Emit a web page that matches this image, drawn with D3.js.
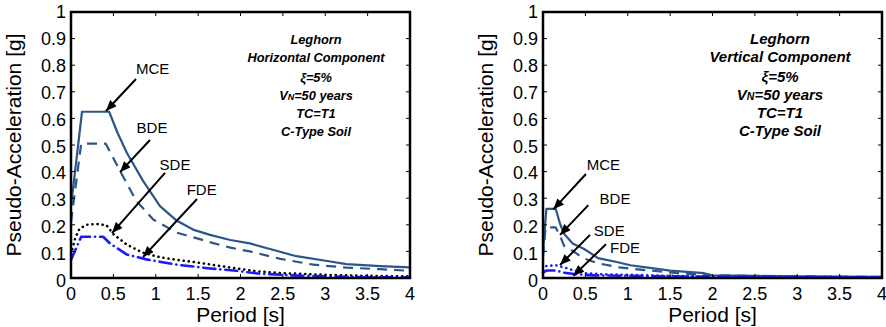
<!DOCTYPE html>
<html>
<head>
<meta charset="utf-8">
<script src="https://cdn.jsdelivr.net/npm/d3@7/dist/d3.min.js"></script>
<style>
  body { margin: 0; background: #fff; }
  svg { display: block; font-family: Arial, 'Liberation Sans', sans-serif; }
</style>
</head>
<body>
<div id="chart"></div>
<script>
// period [s] / pseudo-acceleration [g]
const hMCE = [[0,0.27],[0.13,0.625],[0.45,0.625],[0.55,0.545],[0.66,0.47],[0.85,0.365],[1.05,0.27],[1.25,0.215],[1.44,0.182],[1.64,0.162],[1.88,0.143],[2.11,0.13],[2.38,0.106],[2.66,0.082],[3.06,0.062],[3.25,0.052],[3.65,0.045],[4.0,0.04]]
const hBDE = [[0,0.21],[0.12,0.505],[0.41,0.505],[0.5,0.45],[0.6,0.39],[0.77,0.29],[0.97,0.22],[1.25,0.17],[1.5,0.148],[1.6,0.138],[1.88,0.114],[2.11,0.1],[2.47,0.072],[2.86,0.05],[3.25,0.039],[3.65,0.033],[4.0,0.027]]
const hSDE = [[0,0.09],[0.05,0.15],[0.1,0.185],[0.18,0.2],[0.3,0.203],[0.42,0.198],[0.5,0.165],[0.66,0.125],[0.85,0.095],[1.05,0.078],[1.25,0.068],[1.45,0.06],[1.7,0.048],[1.95,0.036],[2.2,0.025],[2.5,0.018],[3.0,0.012],[3.5,0.008],[4.0,0.006]]
const hFDE = [[0,0.068],[0.12,0.155],[0.38,0.155],[0.46,0.13],[0.66,0.088],[0.89,0.07],[1.25,0.05],[1.64,0.036],[1.95,0.027],[2.2,0.017],[2.6,0.01],[3.0,0.006],[3.5,0.003],[4.0,0.002]]

const vMCE = [[0,0.1],[0.04,0.26],[0.15,0.26],[0.2,0.205],[0.25,0.165],[0.35,0.13],[0.48,0.11],[0.65,0.075],[0.87,0.06],[1.03,0.048],[1.26,0.038],[1.5,0.028],[1.9,0.018],[2.0,0.01],[2.5,0.008],[3.0,0.006],[3.5,0.005],[4.0,0.004]]
const vBDE = [[0,0.08],[0.03,0.19],[0.15,0.19],[0.2,0.16],[0.25,0.12],[0.36,0.1],[0.47,0.075],[0.65,0.055],[0.9,0.04],[1.26,0.028],[1.6,0.018],[2.0,0.01],[3.0,0.006],[4.0,0.004]]
const vSDE = [[0,0.03],[0.04,0.045],[0.15,0.048],[0.25,0.04],[0.35,0.03],[0.5,0.018],[0.7,0.014],[1.0,0.012],[1.5,0.008],[2.0,0.006],[3.0,0.004],[4.0,0.003]]
const vFDE = [[0,0.02],[0.04,0.028],[0.15,0.028],[0.25,0.02],[0.4,0.014],[0.6,0.01],[1.0,0.008],[2.0,0.005],[4.0,0.002]]

const xTicks = [0, 0.5, 1, 1.5, 2, 2.5, 3, 3.5, 4]
const yTicks = [0, 0.1, 0.2, 0.3, 0.4, 0.5, 0.6, 0.7, 0.8, 0.9, 1]

// label text, label position, arrow start, arrow tip (data units)
const hNotes = [
  { label: 'MCE', at: [0.964, 0.786], from: [0.767, 0.748], to: [0.413, 0.628] },
  { label: 'BDE', at: [0.956, 0.564], from: [0.932, 0.519], to: [0.578, 0.398] },
  { label: 'SDE', at: [1.227, 0.425], from: [1.109, 0.395], to: [0.484, 0.169] },
  { label: 'FDE', at: [1.542, 0.331], from: [1.487, 0.297], to: [0.85, 0.079] }
]
const vNotes = [
  { label: 'MCE', at: [0.712, 0.425], from: [0.507, 0.391], to: [0.122, 0.258] },
  { label: 'BDE', at: [0.85, 0.3], from: [0.535, 0.274], to: [0.201, 0.162] },
  { label: 'SDE', at: [0.782, 0.18], from: [0.555, 0.162], to: [0.201, 0.049] },
  { label: 'FDE', at: [0.968, 0.114], from: [0.743, 0.127], to: [0.358, 0.008] }
]

const navy = '#2b5689'
const blue = '#1a1aff'

const svg = d3.select('#chart').append('svg').attr('width', 886).attr('height', 327)

svg.append('defs').append('marker')
  .attr('id', 'arrow')
  .attr('viewBox', '0 -5 12 10')
  .attr('refX', 12).attr('refY', 0)
  .attr('markerWidth', 12).attr('markerHeight', 9)
  .attr('markerUnits', 'userSpaceOnUse')
  .attr('orient', 'auto')
  .append('path').attr('d', 'M0,-5L12,0L0,5Z').attr('fill', '#000')

const drawPanel = (left, series, notes, component, infoX, infoSize) => {
  const top = 12, bottom = 278, w = 339
  const x = d3.scaleLinear().domain([0, 4]).range([left, left + w])
  const y = d3.scaleLinear().domain([0, 1]).range([bottom, top])
  const g = svg.append('g')

  const line = d3.line().x(d => x(d[0])).y(d => y(d[1]))
  series.forEach(s => {
    g.append('path').datum(s.data).attr('d', line)
      .attr('fill', 'none').attr('stroke', s.color).attr('stroke-width', s.width)
      .attr('stroke-dasharray', s.dash).attr('stroke-linecap', s.cap || 'butt')
      .attr('stroke-linejoin', 'round')
  })

  // ticks inward on all four sides
  const tick = 4
  xTicks.forEach(t => {
    g.append('line').attr('x1', x(t)).attr('x2', x(t)).attr('y1', bottom).attr('y2', bottom - tick).attr('stroke', '#000')
    g.append('line').attr('x1', x(t)).attr('x2', x(t)).attr('y1', top).attr('y2', top + tick).attr('stroke', '#000')
    g.append('text').attr('x', x(t)).attr('y', bottom + 22).attr('text-anchor', 'middle')
      .attr('font-size', 18).text(t)
  })
  yTicks.forEach(t => {
    g.append('line').attr('x1', left).attr('x2', left + tick).attr('y1', y(t)).attr('y2', y(t)).attr('stroke', '#000')
    g.append('line').attr('x1', left + w).attr('x2', left + w - tick).attr('y1', y(t)).attr('y2', y(t)).attr('stroke', '#000')
    g.append('text').attr('x', left - 5).attr('y', y(t) + 6 + (1 - t) * 3).attr('text-anchor', 'end')
      .attr('font-size', 18).text(t)
  })

  g.append('rect').attr('x', left).attr('y', top).attr('width', w).attr('height', bottom - top)
    .attr('fill', 'none').attr('stroke', '#000').attr('stroke-width', 2.5)

  g.append('text').attr('x', left + w / 2).attr('y', 322).attr('text-anchor', 'middle')
    .attr('font-size', 21).text('Period [s]')
  g.append('text').attr('transform', `translate(${left - 50},145) rotate(-90)`)
    .attr('text-anchor', 'middle').attr('font-size', 21).text('Pseudo-Acceleration [g]')

  notes.forEach(n => {
    g.append('line').attr('x1', x(n.from[0])).attr('y1', y(n.from[1]))
      .attr('x2', x(n.to[0])).attr('y2', y(n.to[1]))
      .attr('stroke', '#000').attr('stroke-width', 2).attr('marker-end', 'url(#arrow)')
    g.append('text').attr('x', x(n.at[0])).attr('y', y(n.at[1]) + 5.5)
      .attr('text-anchor', 'middle').attr('font-size', 15).text(n.label)
  })

  const info = g.append('text').attr('text-anchor', 'middle').attr('font-size', infoSize)
    .attr('font-weight', 'bold').attr('font-style', 'italic')
  const rows = [39, 57, 77, 95, 113, 131]
  const dy = infoSize * 0.36
  info.append('tspan').attr('x', infoX).attr('y', rows[0] + dy).text('Leghorn')
  info.append('tspan').attr('x', infoX).attr('y', rows[1] + dy).text(component)
  info.append('tspan').attr('x', infoX).attr('y', rows[2] + dy).text('ξ=5%')
  const vn = info.append('tspan').attr('x', infoX).attr('y', rows[3] + dy)
  vn.append('tspan').text('V')
  vn.append('tspan').attr('font-size', infoSize * 0.7).text('N')
  vn.append('tspan').text('=50 years')
  info.append('tspan').attr('x', infoX).attr('y', rows[4] + dy).text('TC=T1')
  info.append('tspan').attr('x', infoX).attr('y', rows[5] + dy).text('C-Type Soil')
}

drawPanel(71, [
  { data: hMCE, color: navy, width: 2.2, dash: null },
  { data: hBDE, color: navy, width: 2.2, dash: '10 7' },
  { data: hSDE, color: '#000', width: 2.6, dash: '0.1 5', cap: 'round' },
  { data: hFDE, color: blue, width: 2.6, dash: '12 5 0.1 5', cap: 'round' }
], hNotes, 'Horizontal Component', 316, 12.8)

drawPanel(543, [
  { data: vMCE, color: navy, width: 2.2, dash: null },
  { data: vBDE, color: navy, width: 2.2, dash: '10 7' },
  { data: vSDE, color: blue, width: 2.6, dash: '0.1 5', cap: 'round' },
  { data: vFDE, color: blue, width: 2.6, dash: '12 5 0.1 5', cap: 'round' }
], vNotes, 'Vertical Component', 780, 15)
</script>
</body>
</html>
